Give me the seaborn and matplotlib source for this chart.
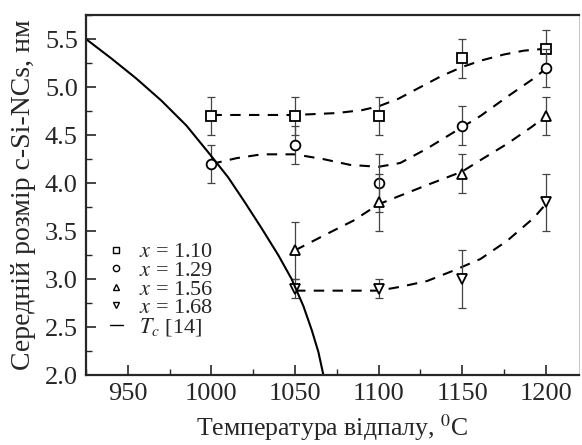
import pandas as pd
import seaborn as sns
import matplotlib.pyplot as plt
from matplotlib.lines import Line2D
from matplotlib.ticker import MultipleLocator

# annealing temperatures and mean c-Si-NC size per composition
temps = [1000, 1050, 1100, 1150, 1200]
size_110 = [4.7, 4.7, 4.7, 5.3, 5.4]
err_110 = [0.2, 0.2, 0.2, 0.2, 0.2]
size_129 = [4.2, 4.4, 4.0, 4.6, 5.2]
err_129 = [0.2, 0.2, 0.3, 0.2, 0.2]
temps_hi = [1050, 1100, 1150, 1200]
size_156 = [3.3, 3.8, 4.1, 4.7]
err_156 = [0.3, 0.3, 0.2, 0.2]
size_168 = [2.9, 2.9, 3.0, 3.8]
err_168 = [0.1, 0.1, 0.3, 0.3]

# dashed guide curves
fit_t_110 = [1000, 1025, 1050, 1075, 1090, 1100, 1112, 1125, 1137, 1150, 1162, 1175, 1187, 1200]
fit_s_110 = [4.71, 4.71, 4.71, 4.73, 4.76, 4.80, 4.88, 5.00, 5.11, 5.21, 5.28, 5.34, 5.38, 5.40]
fit_t_129 = [1000, 1015, 1030, 1050, 1067, 1083, 1100, 1113, 1129, 1145, 1161, 1177, 1192, 1200]
fit_s_129 = [4.20, 4.26, 4.30, 4.30, 4.25, 4.19, 4.17, 4.21, 4.36, 4.53, 4.70, 4.90, 5.08, 5.19]
fit_t_156 = [1050, 1069, 1085, 1100, 1113, 1129, 1150, 1161, 1177, 1192, 1200]
fit_s_156 = [3.30, 3.47, 3.61, 3.78, 3.87, 3.98, 4.12, 4.24, 4.41, 4.59, 4.70]
fit_t_168 = [1050, 1075, 1100, 1113, 1129, 1145, 1161, 1177, 1193, 1200]
fit_s_168 = [2.88, 2.88, 2.88, 2.92, 2.98, 3.09, 3.21, 3.40, 3.64, 3.78]

# critical size curve T_c [14]
tc_temp = [925, 940, 955, 970, 985, 1000, 1010, 1020, 1030, 1040, 1048, 1055, 1060, 1064, 1067]
tc_size = [5.50, 5.30, 5.09, 4.86, 4.60, 4.28, 4.06, 3.80, 3.53, 3.25, 3.00, 2.72, 2.47, 2.24, 2.0]

series = [
    ("$x$ = 1.10", temps, size_110, err_110, "s", fit_t_110, fit_s_110),
    ("$x$ = 1.29", temps, size_129, err_129, "o", fit_t_129, fit_s_129),
    ("$x$ = 1.56", temps_hi, size_156, err_156, "^", fit_t_156, fit_s_156),
    ("$x$ = 1.68", temps_hi, size_168, err_168, "v", fit_t_168, fit_s_168),
]

sns.set_theme(style="ticks")
plt.rcParams['font.family'] = ['Liberation Serif', 'DejaVu Serif']
plt.rcParams['mathtext.fontset'] = 'stix'

fig = plt.figure(figsize=(5.82, 4.45), dpi=100)
ax = fig.add_axes([0.148, 0.157, 0.847, 0.809])

for label, t, s, e, m, ft, fs in series:
    fit = pd.DataFrame({"t": ft, "s": fs})
    sns.lineplot(data=fit, x="t", y="s", ax=ax, color="black", lw=1.5,
                 dashes=(5, 4), legend=False, sort=False)

# measured points with error bars
for label, t, s, e, m, ft, fs in series:
    ax.errorbar(t, s, yerr=e, fmt="none", ecolor="#444444", elinewidth=0.9,
                capsize=3, capthick=0.9)
    ax.plot(t, s, ls="none", marker=m, ms=7, mfc="white", mec="black", mew=1.3)

tc = pd.DataFrame({"t": tc_temp, "s": tc_size})
sns.lineplot(data=tc, x="t", y="s", ax=ax, color="black", lw=1.5, legend=False, sort=False)

ax.set_xlim(925, 1220)
ax.set_ylim(2.0, 5.75)
ax.xaxis.set_major_locator(MultipleLocator(50))
ax.xaxis.set_minor_locator(MultipleLocator(25))
ax.yaxis.set_major_locator(MultipleLocator(0.5))
ax.yaxis.set_minor_locator(MultipleLocator(0.25))
ax.yaxis.set_major_formatter(plt.FormatStrFormatter("%.1f"))
ax.tick_params(which="major", direction="in", length=7, width=1.2, labelsize=19,
               pad=6, top=False, right=False)
ax.tick_params(which="minor", direction="in", length=4, width=1.0,
               top=False, right=False)
for side in ["left", "bottom", "top"]:
    ax.spines[side].set_linewidth(1.6)
ax.spines["right"].set_linewidth(0.6)
ax.spines["right"].set_color("#bbbbbb")

ax.set_xlabel("Температура відпалу, $^{0}$C", fontsize=18.5, labelpad=5)
ax.set_ylabel("Середній розмір c-Si-NCs, нм", fontsize=20, labelpad=6)

handles = [Line2D([], [], ls="none", marker=m, ms=4.5, mfc="white", mec="black",
                  mew=1.0) for _, _, _, _, m, _, _ in series]
handles.append(Line2D([], [], color="black", lw=1.0))
labels = [lab for lab, *_ in series] + ["$T_c$ [14]"]
ax.legend(handles, labels, loc="lower left", bbox_to_anchor=(0.03, 0.078),
          frameon=False, fontsize=16, handlelength=0.6, handletextpad=0.7,
          labelspacing=-0.09, borderaxespad=0)

fig.savefig("out.png", dpi=100)
